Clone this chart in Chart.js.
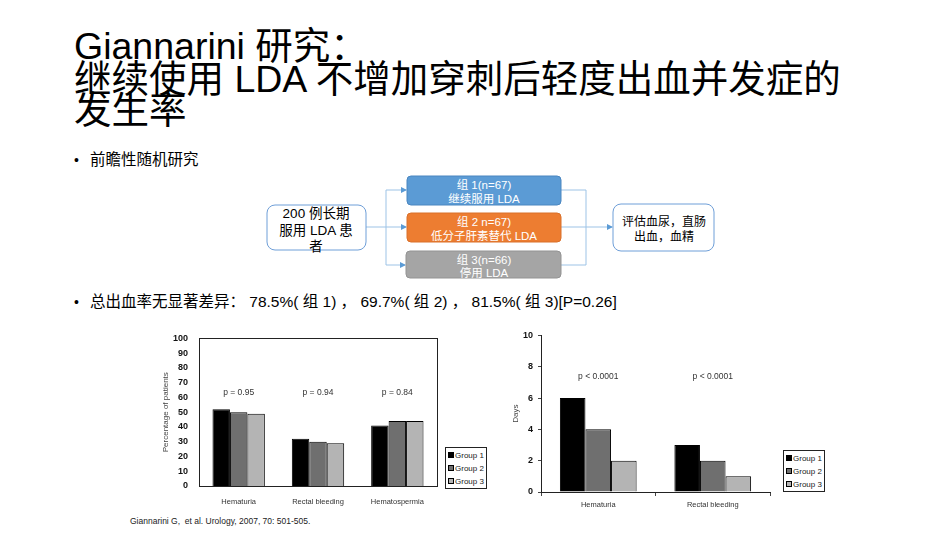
<!DOCTYPE html>
<html>
<head>
<meta charset="utf-8">
<script src="https://cdn.jsdelivr.net/npm/chart.js@4.4.1/dist/chart.umd.min.js"></script>
<style>
    body { margin: 0; width: 950px; height: 535px; background: #fff; position: relative; overflow: hidden;
           font-family: "Liberation Sans", "Noto Sans CJK SC", sans-serif; color: #000; }
    .title { position: absolute; left: 74px; font-size: 37.5px; line-height: 37px; white-space: nowrap; }
    .bullet { position: absolute; left: 74px; font-size: 15.5px; white-space: nowrap; }
    .bullet span { display: inline-block; width: 16px; font-size: 14px; }
    .cv { position: absolute; }
    .legend { position: absolute; border: 1px solid #222; background: #fff; padding: 1px 2px 0 2px;
              font-size: 8px; color: #222; }
    .legend div { height: 13px; line-height: 13px; white-space: nowrap; }
    .legend i { display: inline-block; width: 4px; height: 4px; border: 1px solid #000; margin-right: 1px; vertical-align: 0px; }
    .cite { position: absolute; left: 130px; top: 516px; font-size: 8.5px; color: #222; }
</style>
</head>
<body>
<div class="title" style="top:28px">Giannarini 研究：</div>
<div class="title" style="top:61px">继续使用 LDA 不增加穿刺后轻度出血并发症的</div>
<div class="title" style="top:92px">发生率</div>

<div class="bullet" style="top:147px"><span>•</span>前瞻性随机研究</div>

<svg class="cv" style="left:0;top:0" width="950" height="300">
    <defs>
        <marker id="ar" markerWidth="6" markerHeight="6" refX="5" refY="3" orient="auto">
            <path d="M0,0 L6,3 L0,6 z" fill="#5b9bd5"/>
        </marker>
    </defs>
    <g stroke="#9dc3e6" stroke-width="1" fill="none">
        <path d="M366,227 L386,227"/>
        <path d="M386,190 L386,265"/>
        <path d="M386,190 L406,190" marker-end="url(#ar)"/>
        <path d="M386,227 L406,227" marker-end="url(#ar)"/>
        <path d="M386,265 L405,265" marker-end="url(#ar)"/>
        <path d="M561,190 L586,190 M561,227 L586,227 M561,265 L586,265 M586,190 L586,265"/>
        <path d="M586,227 L612,227" marker-end="url(#ar)"/>
    </g>
    <rect x="267" y="205" width="99" height="45" rx="8" fill="#fff" stroke="#6f9fd8"/>
    <rect x="407" y="176" width="154" height="29" rx="4" fill="#5b9bd5" stroke="#4a86c0"/>
    <rect x="407" y="213" width="154" height="29" rx="4" fill="#ed7d31" stroke="#d9702a"/>
    <rect x="406" y="251" width="155" height="27" rx="4" fill="#a5a5a5" stroke="#939393"/>
    <rect x="613" y="204" width="101" height="47" rx="8" fill="#fff" stroke="#6f9fd8"/>
    <g font-family="Liberation Sans, Noto Sans CJK SC" text-anchor="middle">
        <text x="316" y="217.5" font-size="13.5">200 例长期</text>
        <text x="316" y="234.5" font-size="13.5">服用 LDA 患</text>
        <text x="316" y="251" font-size="13.5">者</text>
        <g fill="#fff" font-size="11.5">
            <text x="484" y="189">组 1(n=67)</text>
            <text x="484" y="203">继续服用 LDA</text>
            <text x="484" y="226">组 2 n=67)</text>
            <text x="484" y="240">低分子肝素替代 LDA</text>
            <text x="484" y="263.5">组 3(n=66)</text>
            <text x="484" y="277">停用 LDA</text>
        </g>
        <text x="664" y="226" font-size="12">评估血尿，直肠</text>
        <text x="664" y="240.5" font-size="12">出血，血精</text>
    </g>
</svg>

<div class="bullet" style="top:289px"><span>•</span>总出血率无显著差异： 78.5%( 组 1) ， 69.7%( 组 2) ， 81.5%( 组 3)[P=0.26]</div>

<canvas id="pct" class="cv" style="left:150px;top:325px" width="290" height="190"></canvas>
<canvas id="days" class="cv" style="left:500px;top:325px" width="275" height="190"></canvas>
<div class="legend" id="leg1" style="left:445px;top:447px"></div>
<div class="legend" id="leg2" style="left:783px;top:450px"></div>

<div class="cite">Giannarini G,&nbsp; et al. Urology, 2007, 70: 501-505.</div>

<script>
const groupNames = ['Group 1', 'Group 2', 'Group 3'];
const groupColors = ['#000000', '#6f6f6f', '#b4b4b4'];

const pctCategories = ['Hematuria', 'Rectal bleeding', 'Hematospermia'];
const pctGroup1 = [52, 32, 41];
const pctGroup2 = [50, 30, 44];
const pctGroup3 = [49, 29, 44];
const pctPValues = ['p = 0.95', 'p = 0.94', 'p = 0.84'];
const pctTicks = [0, 10, 20, 30, 40, 50, 60, 70, 80, 90, 100];

const dayCategories = ['Hematuria', 'Rectal bleeding'];
const dayGroup1 = [6, 3];
const dayGroup2 = [4, 2];
const dayGroup3 = [2, 1];
const dayPValues = ['p < 0.0001', 'p < 0.0001'];
const dayTicks = [0, 2, 4, 6, 8, 10];

// p 值标注
const pLabels = {
    id: 'pLabels',
    afterDatasetsDraw(chart, args, opts) {
        const ctx = chart.ctx;
        const x = chart.scales.x, y = chart.scales.y;
        ctx.save();
        ctx.font = '8.5px "Liberation Sans"';
        ctx.fillStyle = '#333';
        ctx.textAlign = 'center';
        ctx.textBaseline = 'middle';
        opts.texts.forEach((t, i) => ctx.fillText(t, x.getPixelForValue(i), y.getPixelForValue(opts.at)));
        ctx.restore();
    }
};

// 外框
const frame = {
    id: 'frame',
    afterDraw(chart, args, opts) {
        if (!opts.show) return;
        const a = chart.chartArea, ctx = chart.ctx;
        ctx.save();
        ctx.strokeStyle = '#222';
        ctx.lineWidth = 1;
        ctx.strokeRect(Math.round(a.left) + 0.5, Math.round(a.top) + 0.5, Math.round(a.right - a.left), Math.round(a.bottom - a.top));
        ctx.restore();
    }
};

function makeDatasets(series) {
    return series.map((d, i) => ({
        label: groupNames[i],
        data: d,
        backgroundColor: groupColors[i],
        borderColor: '#000',
        borderWidth: 1
    }));
}

function makeChart(id, cats, series, ticks, pv, opt) {
    return new Chart(document.getElementById(id), {
        type: 'bar',
        data: { labels: cats, datasets: makeDatasets(series) },
        plugins: [pLabels, frame],
        options: {
            responsive: false,
            animation: false,
            categoryPercentage: opt.catPct,
            barPercentage: 1,
            layout: { padding: { top: 10, right: opt.padRight, left: 0, bottom: 0 } },
            plugins: {
                legend: { display: false },
                tooltip: { enabled: false },
                pLabels: { texts: pv, at: opt.pAt },
                frame: { show: opt.frame }
            },
            scales: {
                x: {
                    afterFit: s => { s.height = opt.xHeight; },
                    border: { display: true, color: '#222' },
                    grid: { display: opt.xTicks, drawOnChartArea: false, tickLength: 4, color: '#444' },
                    ticks: { color: '#333', font: { family: 'Liberation Sans', size: 7.5 }, padding: opt.xPad }
                },
                y: {
                    min: 0,
                    max: ticks[ticks.length - 1],
                    afterFit: s => { s.width = opt.yWidth; },
                    afterBuildTicks: s => { s.ticks = ticks.map(v => ({ value: v })); },
                    border: { display: true, color: '#222' },
                    grid: { display: opt.yTicks, drawOnChartArea: false, tickLength: 3, color: '#444' },
                    ticks: { color: '#111', font: { family: 'Liberation Sans', size: opt.yFont, weight: 'bold' }, padding: opt.yPad },
                    title: {
                        display: true, text: opt.yTitle, color: '#444',
                        font: { family: 'Liberation Sans', size: 8 },
                        padding: { top: opt.titlePad, bottom: 0 }
                    }
                }
            }
        }
    });
}

makeChart('pct', pctCategories, [pctGroup1, pctGroup2, pctGroup3], pctTicks, pctPValues, {
    catPct: 0.66, padRight: 3, pAt: 63.5, frame: true, xHeight: 29, xTicks: false, xPad: 7,
    yWidth: 49, yTicks: false, yFont: 9, yPad: 8, yTitle: 'Percentage of patients', titlePad: 11
});

makeChart('days', dayCategories, [dayGroup1, dayGroup2, dayGroup3], dayTicks, dayPValues, {
    catPct: 0.67, padRight: 5, pAt: 7.35, frame: false, xHeight: 23, xTicks: true, xPad: 4,
    yWidth: 41, yTicks: true, yFont: 9, yPad: 5, yTitle: 'Days', titlePad: 11
});

// 图例
function buildLegend(id) {
    const el = document.getElementById(id);
    groupNames.forEach((name, i) => {
        const row = document.createElement('div');
        const sw = document.createElement('i');
        sw.style.background = groupColors[i];
        row.appendChild(sw);
        row.appendChild(document.createTextNode(name));
        el.appendChild(row);
    });
}
buildLegend('leg1');
buildLegend('leg2');
</script>
</body>
</html>
